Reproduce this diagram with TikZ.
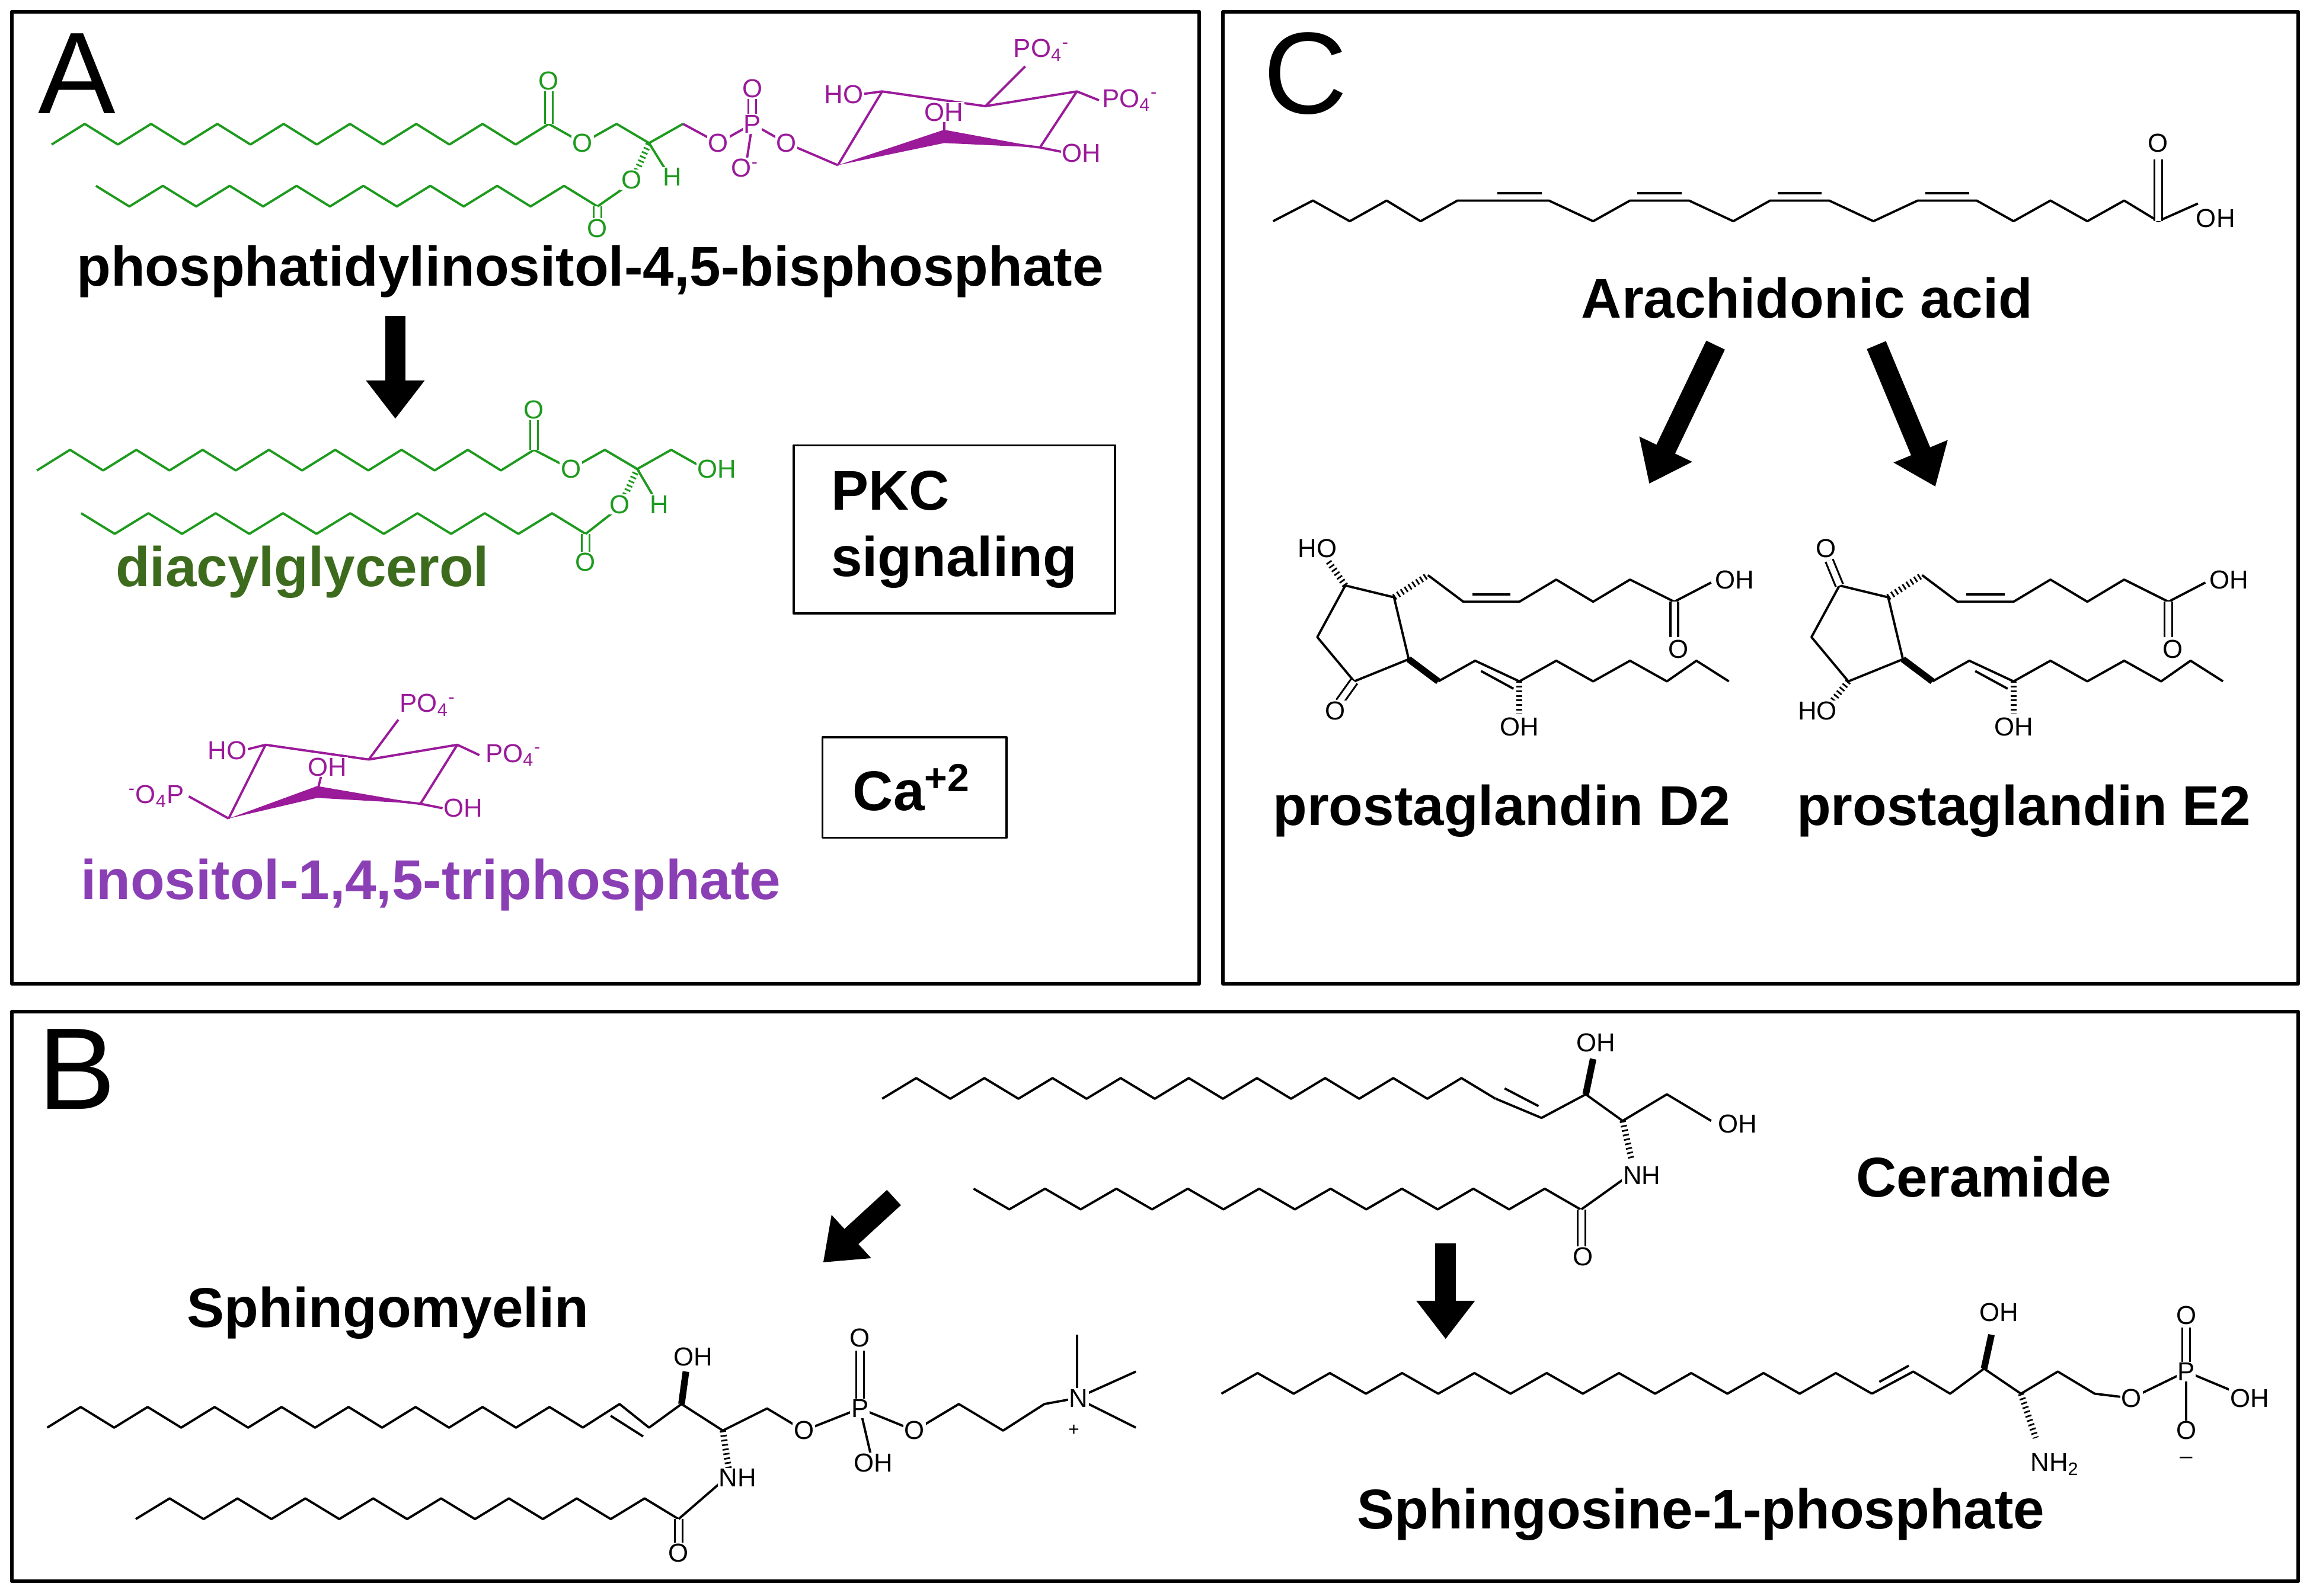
\documentclass[tikz,border=0pt]{standalone}
\usepackage{amsmath}
\usepackage{fontspec}
\setmainfont{Liberation Sans}
\usetikzlibrary{arrows.meta,calc}
\definecolor{grn}{HTML}{1E9A1E}
\definecolor{dgrn}{HTML}{3D6B1E}
\definecolor{pur}{HTML}{9A1A9A}
\definecolor{lpur}{HTML}{8B3FB5}
\newcommand{\zig}[6][]{\draw[#1] (#2,#3) \foreach \i in {1,...,#4}{ -- ({#2+\i*#5},{#3+#6*mod(\i,2)}) };}
\newcommand{\pfour}{PO\textsubscript{4}\textsuperscript{-}}
\begin{document}
\begin{tikzpicture}[x=0.025cm,y=-0.025cm,line width=1.1pt,line join=round,
 frame/.style={line width=1.8pt},
 big/.style={font=\fontsize{27}{32}\selectfont\bfseries},
 letter/.style={font=\fontsize{56}{60}\selectfont},
 atm/.style={font=\fontsize{12.5}{14}\selectfont,fill=white,inner sep=0.5pt},
 db/.style={double,double distance=2.8pt,line width=0.9pt},
 wdg/.style={line width=3.2pt},
 hsh/.style={dash pattern=on 0.8pt off 1.4pt,line width=3pt},
 barrow/.style={line width=0.35cm,-{Triangle[length=0.65cm,width=0.95cm]}}]
\useasboundingbox (0,0) rectangle (1568,1082);
% frames
\draw[frame] (8,8) rectangle (813,667);
\draw[frame] (829,8) rectangle (1558,667);
\draw[frame] (8,686) rectangle (1558,1072);
\node[letter] (lA) at (52,50) {A};
\node[letter] (lC) at (885,50) {C};
\node[letter] (lB) at (52,725) {B};

% ===== Panel A: PIP2 =====
\begin{scope}[grn]
\zig{35}{98}{15}{22.47}{-14}
\draw (372,84) -- (395,97) -- (418,84) -- (440,97);
\draw[db] (372,84) -- (372,60);
\zig{65}{126}{15}{22.67}{14}
\draw[db] (405,140) -- (405,152);
\draw (405,140) -- (428,124);
\draw[hsh] (428,124) -- (440,97);
\draw (440,97) -- (453,118);
\node[atm,text=grn] at (372,55) {O};
\node[atm,text=grn] at (395,97) {O};
\node[atm,text=grn] at (405,155) {O};
\node[atm,text=grn] at (428,122) {O};
\node[atm,text=grn] at (456,120) {H};
\end{scope}
\begin{scope}[pur]
\draw[grn] (440,97) -- (463,84);
\draw (463,84) -- (487,97) -- (510,84) -- (533,97) -- (568,112);
\draw[db] (510,84) -- (510,62);
\draw (510,84) -- (506,110);
\draw (568,112) -- (598,62) -- (668,72) -- (730,62) -- (705,100) -- (640,92);
\fill (568,112) -- (640,88) -- (705,100) -- (640,97) -- cycle;
\draw (598,62) -- (583,64);
\draw (668,72) -- (695,45);
\draw (730,62) -- (745,68);
\draw (705,100) -- (720,103);
\draw (640,92) -- (640,80);
\node[atm,text=pur] at (487,97) {O};
\node[atm,text=pur] at (510,84) {P};
\node[atm,text=pur] at (510,60) {O};
\node[atm,text=pur] at (505,114) {O\textsuperscript{-}};
\node[atm,text=pur] at (533,97) {O};
\node[atm,text=pur] at (572,64) {HO};
\node[atm,text=pur] at (640,76) {OH};
\node[atm,text=pur] at (706,34) {\pfour};
\node[atm,text=pur] at (766,68) {\pfour};
\node[atm,text=pur] at (733,104) {OH};
\end{scope}
\node[big] (pip2) at (400,184) {phosphatidylinositol-4,5-bisphosphate};
\coordinate (a1s) at (268,214);
\coordinate (a1e) at (268,284);
\draw[barrow] (a1s) -- (a1e);

% DAG
\begin{scope}[grn]
\zig{25}{319}{15}{22.47}{-14}
\draw (362,305) -- (387,318) -- (410,305) -- (432,318) -- (455,305) -- (478,318);
\draw[db] (362,305) -- (362,282);
\zig{55}{348}{15}{22.8}{14}
\draw[db] (397,362) -- (397,380);
\draw (397,362) -- (420,344);
\draw[hsh] (420,344) -- (432,318);
\draw (432,318) -- (445,340);
\node[atm,text=grn] at (362,278) {O};
\node[atm,text=grn] at (387,318) {O};
\node[atm,text=grn] at (486,318) {OH};
\node[atm,text=grn] at (397,381) {O};
\node[atm,text=grn] at (420,342) {O};
\node[atm,text=grn] at (447,342) {H};
\end{scope}
\node[big,text=dgrn] (dag) at (205,388) {diacylglycerol};
\node[draw,line width=1.1pt,minimum width=5.45cm,minimum height=2.85cm] (pkcbox) at (647,359) {};
\node[big,align=left,anchor=west] (pkc) at (558,359) {PKC\\[0pt]signaling};

% IP3
\begin{scope}[pur]
\draw (155,555) -- (180,505) -- (250,515) -- (310,505) -- (285,545) -- (215,537);
\fill (155,555) -- (215,533) -- (285,545) -- (215,541) -- cycle;
\draw (155,555) -- (128,540);
\draw (180,505) -- (168,508);
\draw (250,515) -- (270,488);
\draw (310,505) -- (325,512);
\draw (285,545) -- (300,548);
\draw (215,537) -- (218,525);
\node[atm,text=pur] at (106,540) {\textsuperscript{-}O\textsubscript{4}P};
\node[atm,text=pur] at (154,509) {HO};
\node[atm,text=pur] at (222,520) {OH};
\node[atm,text=pur] at (290,478) {\pfour};
\node[atm,text=pur] at (348,512) {\pfour};
\node[atm,text=pur] at (314,548) {OH};
\end{scope}
\node[big,text=lpur] (ip3) at (292,600) {inositol-1,4,5-triphosphate};
\node[draw,line width=1.1pt,minimum width=3.12cm,minimum height=1.7cm] (cabox) at (620,534) {};
\node[big] (ca) at (618,534) {Ca\textsuperscript{+2}};

% ===== Panel C =====
\draw (863,150) -- (890,136) -- (915,150) -- (940,136) -- (963,150) -- (988,136) -- (1050,136) -- (1080,150) -- (1105,136) -- (1145,136) -- (1175,150) -- (1200,136) -- (1240,136) -- (1270,150) -- (1300,136) -- (1340,136) -- (1365,150) -- (1390,136) -- (1415,150) -- (1440,136) -- (1463,150) -- (1490,138);
\draw (1015,131) -- (1045,131);
\draw (1110,131) -- (1140,131);
\draw (1205,131) -- (1235,131);
\draw (1305,131) -- (1335,131);
\draw[db] (1463,150) -- (1463,108);
\node[atm] at (1463,97) {O};
\node[atm] at (1502,148) {OH};
\node[big] (aa) at (1225,202) {Arachidonic acid};
\coordinate (a2s) at (1163,234);
\coordinate (a2e) at (1118,328);
\coordinate (a3s) at (1272,234);
\coordinate (a3e) at (1312,330);
\draw[barrow] (a2s) -- (a2e);
\draw[barrow] (a3s) -- (a3e);

\foreach \sx in {0,335}{
\begin{scope}[xshift=\sx*0.025cm]
\draw (912,397) -- (945,405) -- (955,447) -- (918,462) -- (893,432) -- cycle;
\draw[hsh] (945,405) -- (968,390);
\draw (968,390) -- (992,408) -- (1030,408) -- (1055,393) -- (1080,408) -- (1105,393) -- (1135,408) -- (1160,395);
\draw (998,403) -- (1024,403);
\draw[db] (1135,408) -- (1135,432);
\draw[wdg] (955,447) -- (975,462);
\draw (975,462) -- (1000,448) -- (1030,462) -- (1055,448) -- (1080,462) -- (1105,448) -- (1130,462) -- (1150,448) -- (1172,462);
\draw (1004,455) -- (1026,467);
\draw[hsh] (1030,462) -- (1030,484);
\node[atm] at (1176,393) {OH};
\node[atm] at (1138,440) {O};
\node[atm] at (1030,493) {OH};
\end{scope}}
\draw[hsh] (912,397) -- (900,380);
\node[atm] at (893,372) {HO};
\draw[db] (918,462) -- (908,476);
\node[atm] at (905,482) {O};
\draw[db] (1247,397) -- (1240,380);
\node[atm] at (1238,372) {O};
\draw[hsh] (1253,462) -- (1240,478);
\node[atm] at (1232,482) {HO};
\node[big] (pgd) at (1018,550) {prostaglandin D2};
\node[big] (pge) at (1372,550) {prostaglandin E2};

% ===== Panel B =====
\zig{598}{745}{18}{23.1}{-14}
\draw (1014,745) -- (1045,758) -- (1075,742) -- (1100,760) -- (1130,742) -- (1160,760);
\draw (1020,738) -- (1043,750);
\draw[wdg] (1075,742) -- (1080,718);
\draw[hsh] (1100,760) -- (1106,786);
\zig{660}{806}{17}{24.2}{14}
\draw[db] (1072,820) -- (1072,845);
\draw (1072,820) -- (1100,800);
\node[atm] at (1082,707) {OH};
\node[atm] at (1178,762) {OH};
\node[atm] at (1113,797) {NH};
\node[atm] at (1073,852) {O};
\node[big] (cer) at (1345,798) {Ceramide};
\coordinate (a4s) at (606,812);
\coordinate (a4e) at (558,856);
\coordinate (a5s) at (980,843);
\coordinate (a5e) at (980,908);
\draw[barrow] (a4s) -- (a4e);
\draw[barrow] (a5s) -- (a5e);

\node[big] (sm) at (263,890) {Sphingomyelin};
\zig{32}{968}{16}{22.7}{-14}
\draw (395,968) -- (420,952) -- (440,968) -- (462,952) -- (490,970) -- (520,955) -- (545,970) -- (583,955) -- (620,970) -- (650,952) -- (680,970) -- (708,952) -- (730,948);
\draw (414,960) -- (436,974);
\draw[wdg] (462,952) -- (465,930);
\draw[hsh] (490,970) -- (494,996);
\draw[db] (583,955) -- (583,916);
\draw (583,955) -- (590,985);
\draw (730,948) -- (730,905);
\draw (730,948) -- (770,930);
\draw (730,948) -- (770,968);
\zig{92}{1030}{16}{23}{-14}
\draw[db] (460,1030) -- (460,1050);
\draw (460,1030) -- (490,1004);
\node[atm] at (470,920) {OH};
\node[atm] at (500,1002) {NH};
\node[atm] at (460,1053) {O};
\node[atm] at (545,970) {O};
\node[atm] at (583,955) {P};
\node[atm] at (583,907) {O};
\node[atm] at (592,992) {OH};
\node[atm] at (620,970) {O};
\node[atm] at (731,948) {N};
\node[font=\fontsize{9}{10}\selectfont] at (728,970) {+};

\zig{828}{945}{18}{24.5}{-14}
\draw (1269,945) -- (1297,930) -- (1322,945) -- (1345,928) -- (1370,945) -- (1395,930) -- (1420,945) -- (1445,948) -- (1482,930) -- (1525,948);
\draw (1274,937) -- (1294,926);
\draw[wdg] (1345,928) -- (1350,905);
\draw[hsh] (1370,945) -- (1380,975);
\draw[db] (1482,930) -- (1482,900);
\draw (1482,930) -- (1482,965);
\node[atm] at (1355,890) {OH};
\node[atm] at (1393,993) {NH\textsubscript{2}};
\node[atm] at (1445,948) {O};
\node[atm] at (1482,930) {P};
\node[atm] at (1482,892) {O};
\node[atm] at (1525,948) {OH};
\node[atm] at (1482,970) {O};
\node[font=\fontsize{11}{12}\selectfont] at (1482,990) {\textendash};
\node[big] (s1p) at (1153,1027) {Sphingosine-1-phosphate};
\end{tikzpicture}
\end{document}
